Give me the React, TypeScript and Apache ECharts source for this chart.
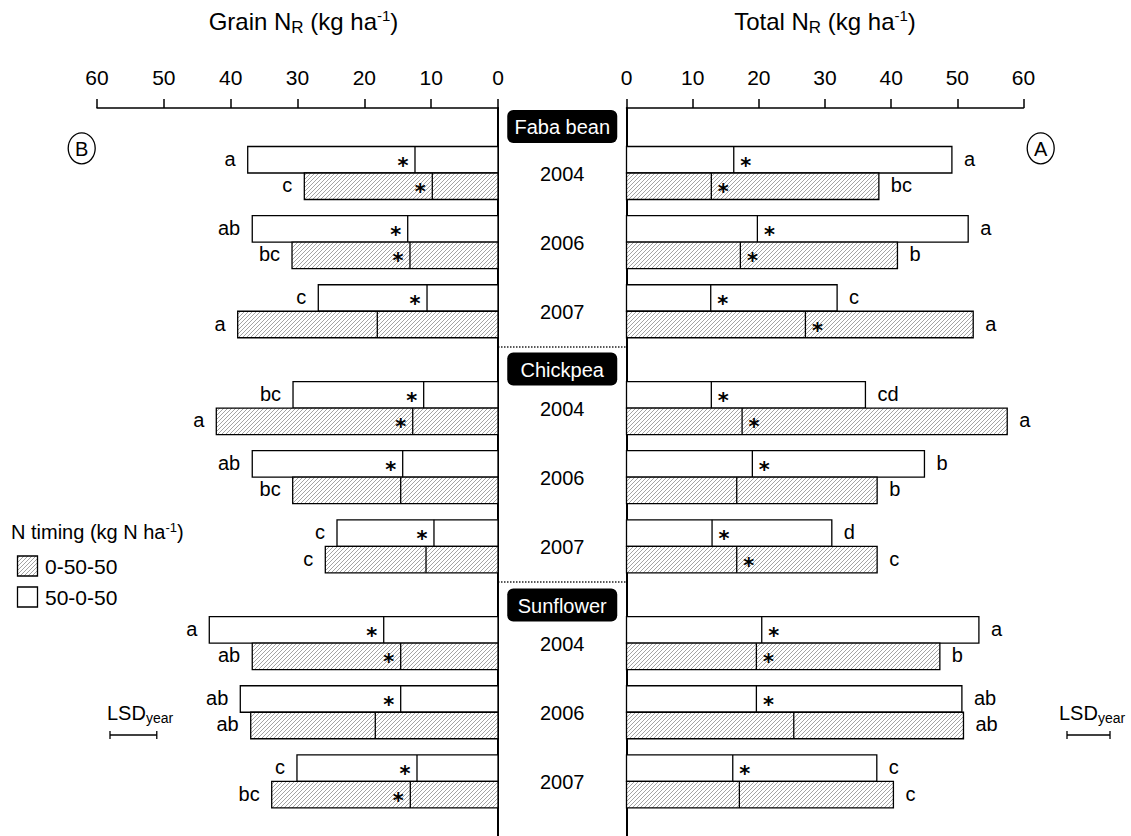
import React, { useEffect, useRef } from 'react';
import * as echarts from 'echarts';

// ---------- data ----------
const crops = ['Faba bean', 'Chickpea', 'Sunflower'];
const years = ['2004', '2006', '2007'];
const treatments = ['0-50-50', '50-0-50'];

// Order of all arrays: Faba 2004, 2006, 2007, Chickpea 2004, 2006, 2007, Sunflower 2004, 2006, 2007
// Grain N_R (kg ha-1), 50-0-50 (white bars)
const grainWhite = [37.45, 36.77, 26.89, 30.67, 36.77, 24.09, 43.2, 38.56, 30.08];
const grainWhiteSplit = [12.42, 13.51, 10.62, 11.12, 14.26, 9.58, 17.1, 14.56, 12.12];
const grainWhiteSig = [true, true, true, true, true, true, true, true, true];
const grainWhiteLetters = ['a', 'ab', 'c', 'bc', 'ab', 'c', 'a', 'ab', 'c'];
// Grain N_R, 0-50-50 (hatched bars)
const grainHatch = [28.98, 30.82, 38.95, 42.15, 30.72, 25.84, 36.77, 37.0, 33.86];
const grainHatchSplit = [9.83, 13.17, 18.06, 12.76, 14.56, 10.77, 14.56, 18.36, 13.12];
const grainHatchSig = [true, true, false, true, false, false, true, false, true];
const grainHatchLetters = ['c', 'bc', 'a', 'a', 'bc', 'c', 'ab', 'ab', 'bc'];
// Total N_R (kg ha-1), 50-0-50 (white bars)
const totalWhite = [49.18, 51.64, 31.83, 36.11, 45.03, 31.03, 53.26, 50.69, 37.83];
const totalWhiteSplit = [16.21, 19.78, 12.73, 12.82, 19.02, 12.93, 20.44, 19.63, 16.06];
const totalWhiteSig = [true, true, true, true, true, true, true, true, true];
const totalWhiteLetters = ['a', 'a', 'c', 'cd', 'b', 'd', 'a', 'ab', 'c'];
// Total N_R, 0-50-50 (hatched bars)
const totalHatch = [38.14, 40.95, 52.4, 57.54, 37.88, 37.88, 47.36, 50.93, 40.34];
const totalHatchSplit = [12.82, 17.21, 27.04, 17.47, 16.66, 16.66, 19.63, 25.28, 17.06];
const totalHatchSig = [true, true, true, true, false, true, true, false, false];
const totalHatchLetters = ['bc', 'b', 'a', 'a', 'b', 'c', 'b', 'ab', 'c'];

const xTicks = [0, 10, 20, 30, 40, 50, 60];
const lsdGrain = 7.0;
const lsdTotal = 6.5;

// ---------- style ----------
const FONT = '"Liberation Sans", Arial, Helvetica, sans-serif';
const STAR_FONT = '"DejaVu Sans", "Liberation Sans", sans-serif';
const BAR_H = 26.5;
const CROP_STEP = 3.4;

const groupPos = (k: number) => Math.floor(k / 3) * CROP_STEP + (k % 3);

function makeHatch() {
  const s = 4;
  const c = document.createElement('canvas');
  c.width = s;
  c.height = s;
  const g = c.getContext('2d')!;
  g.fillStyle = '#ffffff';
  g.fillRect(0, 0, s, s);
  g.strokeStyle = '#9a9a9a';
  g.lineWidth = 0.9;
  g.beginPath();
  g.moveTo(0, s);
  g.lineTo(s, 0);
  g.moveTo(-1, 1);
  g.lineTo(1, -1);
  g.moveTo(s - 1, s + 1);
  g.lineTo(s + 1, s - 1);
  g.stroke();
  return { image: c, repeat: 'repeat', imageWidth: s, imageHeight: s };
}

function txt(text: string, x: number, y: number, size: number, align: string, extra: any = {}) {
  return {
    type: 'text',
    style: {
      text, x, y, fontSize: size, fontFamily: FONT, fill: '#000',
      textAlign: align, align, textVerticalAlign: 'middle', verticalAlign: 'middle',
      ...extra,
    },
  };
}

function barSeries(
  name: string, gi: number, values: number[], splits: number[], sig: boolean[],
  letters: string[], top: boolean, side: number, fill: any,
) {
  return {
    type: 'custom',
    name,
    xAxisIndex: gi,
    yAxisIndex: gi,
    encode: { x: 0, y: 1 },
    data: values.map((v, k) => [v, groupPos(k), splits[k]]),
    renderItem: (params: any, api: any) => {
      const k = params.dataIndex;
      const pos = api.value(1);
      const b = api.coord([0, pos]);
      const e = api.coord([api.value(0), pos]);
      const s = api.coord([api.value(2), pos]);
      const y0 = top ? b[1] - BAR_H : b[1];
      const cy = y0 + BAR_H / 2;
      const children: any[] = [
        {
          type: 'rect',
          shape: { x: Math.min(b[0], e[0]), y: y0, width: Math.abs(e[0] - b[0]), height: BAR_H },
          style: { fill, stroke: '#000', lineWidth: 1.3 },
        },
        {
          type: 'line',
          shape: { x1: s[0], y1: y0, x2: s[0], y2: y0 + BAR_H },
          style: { stroke: '#000', lineWidth: 1.3 },
        },
        txt(letters[k], e[0] + side * 12, cy - 1, 20, side < 0 ? 'right' : 'left'),
      ];
      if (sig[k]) {
        children.push(txt('*', s[0] + side * 12, cy + 6, 21, 'center', {
          fontWeight: 'bold', fontFamily: STAR_FONT, lineHeight: 16,
        }));
      }
      return { type: 'group', children };
    },
  };
}

function xAxis(gi: number, inverse: boolean) {
  return {
    gridIndex: gi, type: 'value', min: 0, max: 60, interval: 10, inverse, position: 'top',
    axisLine: { show: true, onZero: false, lineStyle: { color: '#000', width: 1.5 } },
    axisTick: { show: true, length: 9, inside: false, lineStyle: { color: '#000', width: 1.5 } },
    axisLabel: {
      fontSize: 21, color: '#000', margin: 20, fontFamily: FONT,
      formatter: (v: number) => (xTicks.includes(v) ? String(v) : ''),
    },
    splitLine: { show: false },
  };
}

function yAxis(gi: number, position: string) {
  return {
    gridIndex: gi, type: 'value', min: -0.94, max: 9.59, inverse: true, position,
    axisLine: { show: true, onZero: false, lineStyle: { color: '#000', width: 2 } },
    axisTick: { show: false },
    axisLabel: { show: false },
    splitLine: { show: false },
  };
}

export default function App() {
  const ref = useRef<HTMLDivElement>(null);
  useEffect(() => {
    if (!ref.current) return;
    const chart = echarts.init(ref.current, undefined, { renderer: 'svg' });
    const hatch = makeHatch();
    chart.setOption({
      animation: false,
      backgroundColor: '#fff',
      textStyle: { fontFamily: FONT },
      grid: [
        { left: 97, top: 108, width: 401, height: 728 },
        { left: 626.5, top: 108, width: 397, height: 728 },
      ],
      xAxis: [xAxis(0, true), xAxis(1, false)],
      yAxis: [yAxis(0, 'right'), yAxis(1, 'left')],
      series: [
        barSeries(treatments[1], 0, grainWhite, grainWhiteSplit, grainWhiteSig, grainWhiteLetters, true, -1, '#fff'),
        barSeries(treatments[0], 0, grainHatch, grainHatchSplit, grainHatchSig, grainHatchLetters, false, -1, hatch),
        barSeries(treatments[1], 1, totalWhite, totalWhiteSplit, totalWhiteSig, totalWhiteLetters, true, 1, '#fff'),
        barSeries(treatments[0], 1, totalHatch, totalHatchSplit, totalHatchSig, totalHatchLetters, false, 1, hatch),
      ],
    });

    const yPix = (p: number) => chart.convertToPixel({ yAxisIndex: 0 } as any, p) as unknown as number;
    const xL = (v: number) => chart.convertToPixel({ xAxisIndex: 0 } as any, v) as unknown as number;
    const xR = (v: number) => chart.convertToPixel({ xAxisIndex: 1 } as any, v) as unknown as number;
    const midX = (xL(0) + xR(0)) / 2;

    const titleRich = {
      a: { fontSize: 24, fontFamily: FONT, fill: '#000' },
      b: { fontSize: 17, fontFamily: FONT, fill: '#000', padding: [12, 0, 0, 0] },
      c: { fontSize: 15, fontFamily: FONT, fill: '#000', padding: [0, 0, 12, 0] },
    };
    const g: any[] = [];
    g.push(txt('{a|Grain N}{b|R}{a| (kg ha}{c|-1}{a|)}', (xL(0) + xL(60)) / 2 + 6, 21, 24, 'center', { rich: titleRich }));
    g.push(txt('{a|Total N}{b|R}{a| (kg ha}{c|-1}{a|)}', (xR(0) + xR(60)) / 2, 21, 24, 'center', { rich: titleRich }));

    // circled panel letters
    [['B', 81.7], ['A', 1040.7]].forEach(([l, cx]) => {
      g.push({ type: 'ellipse', shape: { cx, cy: 148.3, rx: 13.5, ry: 15.5 }, style: { fill: 'none', stroke: '#000', lineWidth: 1.3 } });
      g.push(txt(l as string, cx as number, 149, 20, 'center'));
    });

    // crop labels
    const cropY = [126.5, 369, 605];
    crops.forEach((c, i) => {
      g.push({ type: 'rect', shape: { x: midX - 55, y: cropY[i] - 16.5, width: 110, height: 33, r: 6 }, style: { fill: '#000' } });
      g.push(txt(c, midX, cropY[i] + 0.5, 20, 'center', { fill: '#fff' }));
    });
    // separators
    [347, 582].forEach((y) => {
      g.push({ type: 'line', shape: { x1: xL(0), y1: y, x2: xR(0), y2: y }, style: { stroke: '#222', lineWidth: 1.5, lineDash: [1.5, 1.5] } });
    });
    // year labels
    for (let k = 0; k < 9; k++) {
      g.push(txt(years[k % 3], midX, yPix(groupPos(k)) + 1, 20, 'center'));
    }

    // legend
    g.push(txt('{a|N timing (kg N ha}{c|-1}{a|)}', 11, 532, 21, 'left', {
      rich: {
        a: { fontSize: 20, fontFamily: FONT, fill: '#000' },
        c: { fontSize: 13, fontFamily: FONT, fill: '#000', padding: [0, 0, 10, 0] },
      },
    }));
    g.push({ type: 'rect', shape: { x: 17.5, y: 556, width: 20, height: 20 }, style: { fill: hatch, stroke: '#000', lineWidth: 1.3 } });
    g.push(txt(treatments[0], 45, 566.5, 21, 'left'));
    g.push({ type: 'rect', shape: { x: 17.5, y: 587, width: 20, height: 20 }, style: { fill: '#fff', stroke: '#000', lineWidth: 1.3 } });
    g.push(txt(treatments[1], 45, 597.5, 21, 'left'));

    // LSD markers
    const lsdRich = {
      a: { fontSize: 20, fontFamily: FONT, fill: '#000' },
      s: { fontSize: 14, fontFamily: FONT, fill: '#000', padding: [10, 0, 0, 0] },
    };
    const lsdItems: [number, number][] = [
      [107, xL(0) - xL(lsdGrain)],
      [1059, xR(lsdTotal) - xR(0)],
    ];
    lsdItems.forEach(([x0, len], i) => {
      g.push(txt('{a|LSD}{s|year}', x0, 713, 20, 'left', { rich: lsdRich }));
      const bx = x0 + (i === 0 ? 3 : 8);
      g.push({ type: 'line', shape: { x1: bx, y1: 735, x2: bx + len, y2: 735 }, style: { stroke: '#000', lineWidth: 1.3 } });
      g.push({ type: 'line', shape: { x1: bx, y1: 731, x2: bx, y2: 739 }, style: { stroke: '#000', lineWidth: 1.3 } });
      g.push({ type: 'line', shape: { x1: bx + len, y1: 731, x2: bx + len, y2: 739 }, style: { stroke: '#000', lineWidth: 1.3 } });
    });

    chart.setOption({ graphic: g });
    return () => chart.dispose();
  }, []);
  return (
    <div
      ref={ref}
      style={{ position: 'fixed', left: 0, top: 0, width: 1131, height: 836, background: '#fff' }}
    />
  );
}
